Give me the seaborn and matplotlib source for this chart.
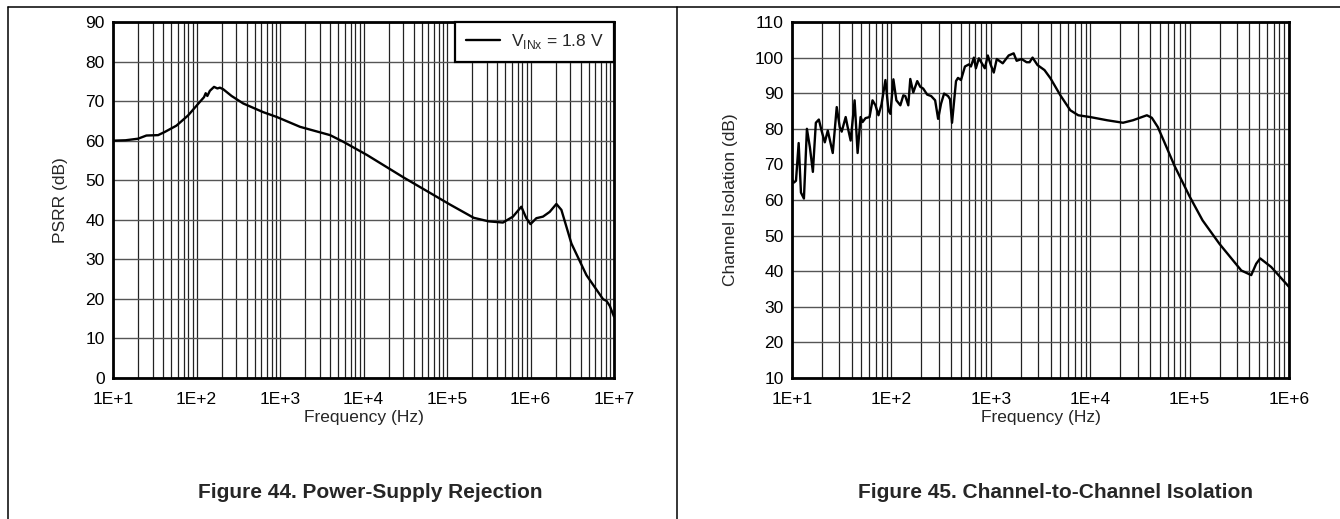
import numpy as np
import matplotlib
matplotlib.use('Agg')
import matplotlib.pyplot as plt
import matplotlib.ticker as mticker
from matplotlib.lines import Line2D
import seaborn as sns

# ─── Data ─────────────────────────────────────────────────────────────────────
# Figure 44: PSRR vs frequency (log10 of Hz, dB)
psrr_logf = [1.00, 1.15, 1.30, 1.40, 1.54, 1.62, 1.76, 1.90, 2.04, 2.09, 2.11, 2.13,
             2.16, 2.21, 2.25, 2.28, 2.32, 2.42, 2.56, 2.80, 2.96, 3.24, 3.60, 3.76,
             4.04, 4.48, 5.04, 5.32, 5.50, 5.67, 5.79, 5.89, 5.95, 6.00, 6.07, 6.15,
             6.23, 6.31, 6.37, 6.49, 6.67, 6.87, 6.91, 6.95, 7.00]
psrr_db = [60.0, 60.1, 60.5, 61.3, 61.4, 62.2, 63.8, 66.4, 69.8, 71.0, 72.0, 71.3,
           72.6, 73.6, 73.2, 73.4, 73.0, 71.3, 69.4, 67.2, 66.0, 63.5, 61.4, 59.7,
           56.4, 50.7, 43.8, 40.5, 39.6, 39.3, 40.8, 43.3, 40.4, 38.9, 40.4, 40.8,
           42.0, 44.0, 42.5, 34.0, 26.0, 19.9, 19.5, 18.2, 15.5]

# Figure 45: channel isolation vs frequency (log10 of Hz, dB)
iso_logf = [1.00, 1.02, 1.04, 1.067, 1.09, 1.12, 1.15, 1.18, 1.21, 1.24, 1.27, 1.30,
            1.33, 1.36, 1.41, 1.45, 1.48, 1.50, 1.54, 1.56, 1.59, 1.63, 1.66, 1.69,
            1.71, 1.74, 1.78, 1.81, 1.84, 1.87, 1.90, 1.94, 1.97, 1.99, 2.02, 2.05,
            2.09, 2.12, 2.14, 2.17, 2.19, 2.22, 2.26, 2.29, 2.32, 2.36, 2.40, 2.44,
            2.47, 2.50, 2.53, 2.57, 2.59, 2.61, 2.65, 2.67, 2.70, 2.74, 2.78, 2.80,
            2.83, 2.85, 2.88, 2.91, 2.94, 2.97, 3.00, 3.03, 3.06, 3.12, 3.18, 3.23,
            3.26, 3.31, 3.36, 3.39, 3.42, 3.47, 3.54, 3.60, 3.70, 3.80, 3.88, 4.00,
            4.17, 4.33, 4.43, 4.57, 4.62, 4.68, 4.75, 4.85, 5.00, 5.13, 5.30, 5.52,
            5.62, 5.67, 5.71, 5.82, 6.00]
iso_db = [65.8, 64.9, 65.4, 76.0, 62.1, 60.4, 80.0, 74.8, 67.9, 81.7, 82.6, 79.2,
          76.2, 79.5, 73.2, 86.1, 80.5, 79.2, 83.3, 80.5, 76.7, 88.0, 73.2, 83.3,
          81.9, 83.0, 83.3, 88.0, 86.6, 83.8, 86.8, 93.7, 85.2, 84.2, 93.9, 88.0,
          86.6, 89.4, 89.2, 86.6, 94.0, 90.2, 93.4, 91.8, 91.3, 89.6, 89.2, 88.0,
          82.8, 87.1, 89.9, 89.2, 88.3, 81.7, 93.4, 94.3, 93.7, 97.5, 98.1, 97.5,
          100.0, 97.0, 99.8, 98.4, 97.0, 100.6, 97.9, 95.8, 99.6, 98.4, 100.6, 101.2,
          99.1, 99.6, 98.7, 98.7, 100.0, 97.9, 96.5, 94.2, 89.4, 85.2, 83.8, 83.3,
          82.4, 81.7, 82.4, 83.8, 83.1, 80.5, 76.0, 69.5, 61.0, 54.3, 47.7, 40.2,
          38.9, 42.1, 43.6, 41.2, 35.6]

PSRR_XTICKS = [1, 2, 3, 4, 5, 6, 7]
ISO_XTICKS = [1, 2, 3, 4, 5, 6]
PSRR_YTICKS = list(range(0, 91, 10))
ISO_YTICKS = list(range(10, 111, 10))

LEGEND_LABEL = r'V$_{\mathregular{INx}}$ = 1.8 V'
TITLE_LEFT = 'Figure 44. Power-Supply Rejection'
TITLE_RIGHT = 'Figure 45. Channel-to-Channel Isolation'

# ─── Style ────────────────────────────────────────────────────────────────────
sns.set_style('white')
plt.rcParams['font.family'] = ['Liberation Sans', 'DejaVu Sans']
plt.rcParams['mathtext.fontset'] = 'custom'
plt.rcParams['mathtext.rm'] = 'Liberation Sans'

W, H = 1340, 519
fig = plt.figure(figsize=(W / 100, H / 100), dpi=100)
fig.patch.set_facecolor('white')

FS = 12.5


def setup_axes(ax, xticks, yticks, ylabel, ylabel_x):
    ax.set_xscale('log')
    ax.set_xlim(10 ** xticks[0], 10 ** xticks[-1])
    ax.set_ylim(yticks[0], yticks[-1])
    ax.set_xticks([10.0 ** k for k in xticks])
    ax.set_xticklabels([f'1E+{k}' for k in xticks])
    ax.xaxis.set_minor_locator(mticker.LogLocator(base=10, subs=np.arange(2, 10), numticks=50))
    ax.xaxis.set_minor_formatter(mticker.NullFormatter())
    ax.set_yticks(yticks)
    ax.tick_params(axis='both', which='both', length=0, labelsize=FS, colors='black')
    ax.tick_params(axis='x', pad=10)
    ax.tick_params(axis='y', pad=6)
    ax.grid(True, axis='x', which='both', color='#222222', lw=0.9)
    ax.grid(True, axis='y', which='major', color='#555555', lw=1.0)
    ax.set_axisbelow(True)
    for sp in ax.spines.values():
        sp.set_visible(True)
        sp.set_color('black')
        sp.set_linewidth(2.0)
        sp.set_zorder(5)
    ax.set_xlabel('Frequency (Hz)', fontsize=FS, labelpad=2)
    ax.set_ylabel(ylabel, fontsize=FS)
    ax.yaxis.set_label_coords(ylabel_x, 0.5)


# ─── Left: PSRR ───────────────────────────────────────────────────────────────
ax1 = fig.add_axes([113 / W, 1 - 378 / H, 501 / W, 356 / H])
sns.lineplot(x=[10 ** v for v in psrr_logf], y=psrr_db, ax=ax1, color='black',
             lw=1.7, estimator=None, sort=False, label=LEGEND_LABEL)
setup_axes(ax1, PSRR_XTICKS, PSRR_YTICKS, 'PSRR (dB)', -0.09)
leg = ax1.legend(loc='upper right', borderaxespad=0, fancybox=False, framealpha=1,
                 edgecolor='black', fontsize=FS, handlelength=2.0, handletextpad=0.6,
                 borderpad=0.6)
leg.get_frame().set_linewidth(1.6)
leg.set_zorder(6)

# ─── Right: channel isolation ─────────────────────────────────────────────────
ax2 = fig.add_axes([792 / W, 1 - 378 / H, 497 / W, 356 / H])
sns.lineplot(x=[10 ** v for v in iso_logf], y=iso_db, ax=ax2, color='black',
             lw=1.7, estimator=None, sort=False)
setup_axes(ax2, ISO_XTICKS, ISO_YTICKS, 'Channel Isolation (dB)', -0.109)

# ─── Captions and the table-like frame ───────────────────────────────────────
fig.text(370 / W, 1 - 493 / H, TITLE_LEFT, ha='center', va='center',
         fontsize=15, fontweight='bold')
fig.text(1055 / W, 1 - 493 / H, TITLE_RIGHT, ha='center', va='center',
         fontsize=15, fontweight='bold')

frame_kw = dict(transform=fig.transFigure, color='black', lw=1.1)
fig.add_artist(Line2D([7.5 / W, 1], [1 - 6.5 / H, 1 - 6.5 / H], **frame_kw))
fig.add_artist(Line2D([7.5 / W, 7.5 / W], [0, 1 - 6.5 / H], **frame_kw))
fig.add_artist(Line2D([677 / W, 677 / W], [0, 1 - 6.5 / H], **frame_kw))

fig.savefig('out.png', dpi=100, facecolor='white')
